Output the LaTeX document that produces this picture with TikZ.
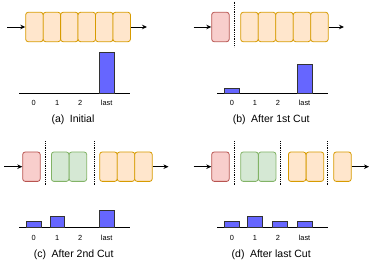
\documentclass[tikz,border=0pt]{standalone}
\usepackage{fontspec}
\setmainfont{Liberation Sans}
\usetikzlibrary{arrows.meta}
\definecolor{ofill}{HTML}{FFE6CC}\definecolor{odraw}{HTML}{D79B00}
\definecolor{rfill}{HTML}{F8CECC}\definecolor{rdraw}{HTML}{B85450}
\definecolor{gfill}{HTML}{D5E8D4}\definecolor{gdraw}{HTML}{82B366}
\definecolor{barfill}{HTML}{6666FF}\definecolor{bardraw}{HTML}{333333}
\begin{document}
\begin{tikzpicture}[x=1pt,y=-1pt,
  cell/.style={rectangle,rounded corners=2.5pt,line width=0.8pt,minimum width=17.5pt,minimum height=29.4pt,inner sep=0pt,anchor=west},
  ocell/.style={cell,fill=ofill,draw=odraw},
  rcell/.style={cell,fill=rfill,draw=rdraw},
  gcell/.style={cell,fill=gfill,draw=gdraw},
  flow/.style={-{Stealth[length=5pt,width=4.5pt]},line width=0.9pt},
  cutline/.style={densely dotted,line width=0.8pt},
  bar/.style={fill=barfill,draw=bardraw,line width=0.8pt},
  axis/.style={line width=0.9pt},
  lbl/.style={font=\fontsize{7.4}{8}\selectfont,inner sep=0pt},
  captxt/.style={font=\fontsize{10.5}{12}\selectfont,inner sep=0pt}]
\useasboundingbox (0,0) rectangle (374,264);
% ---------- (a)
\foreach \i in {0,...,5}{\node[ocell] (a\i) at (25.3+17.45*\i,27) {};}
\coordinate (ain) at (7,27); \coordinate (aout) at (147,27);
\draw[flow] (ain) -- (a0.west);
\draw[flow] (a5.east) -- (aout);
\coordinate (aax1) at (19.3,93.7); \coordinate (aax2) at (130,93.7);
\draw[axis] (aax1) -- (aax2);
\draw[bar] (99.3,93.7) rectangle (114,52.7);
\node[lbl] (al0) at (33.7,103) {0};
\node[lbl] (al1) at (57.2,103) {1};
\node[lbl] (al2) at (80.3,103) {2};
\node[lbl] (al3) at (106.7,103) {last};
\node[captxt] (acap) at (73,119.5) {(a)\hspace{5.5pt}Initial};
% ---------- (b)
\node[rcell] (br) at (211.3,27) {};
\foreach \i in {0,...,4}{\node[ocell] (b\i) at (240.3+17.5*\i,27) {};}
\coordinate (bin) at (193.5,27); \coordinate (bout) at (344,27);
\draw[flow] (bin) -- (br.west);
\draw[flow] (b4.east) -- (bout);
\coordinate (bc1t) at (234,1.7); \coordinate (bc1b) at (234,46.7);
\draw[cutline] (bc1t) -- (bc1b);
\coordinate (bax1) at (217,93.5); \coordinate (bax2) at (327.5,93.5);
\draw[axis] (bax1) -- (bax2);
\draw[bar] (224.3,93.5) rectangle (239,88);
\draw[bar] (297.7,93.5) rectangle (312.3,64.3);
\node[lbl] (bl0) at (232,103) {0};
\node[lbl] (bl1) at (255,103) {1};
\node[lbl] (bl2) at (278,103) {2};
\node[lbl] (bl3) at (304.5,103) {last};
\node[captxt] (bcap) at (271.2,119.5) {(b)\hspace{5.5pt}After 1st Cut};
% ---------- (c)
\node[rcell] (cr) at (22.3,166.7) {};
\foreach \i in {0,1}{\node[gcell] (cg\i) at (51+17.8*\i,166.7) {};}
\foreach \i in {0,...,2}{\node[ocell] (co\i) at (99.3+17.5*\i,166.7) {};}
\coordinate (cin) at (4,166.7); \coordinate (cout) at (168.5,166.7);
\draw[flow] (cin) -- (cr.west);
\draw[flow] (co2.east) -- (cout);
\coordinate (cc1t) at (45.3,141.3); \coordinate (cc1b) at (45.3,186);
\coordinate (cc2t) at (94,141.3); \coordinate (cc2b) at (94,186);
\draw[cutline] (cc1t) -- (cc1b);
\draw[cutline] (cc2t) -- (cc2b);
\coordinate (cax1) at (19.3,227.3); \coordinate (cax2) at (129.5,227.3);
\draw[axis] (cax1) -- (cax2);
\draw[bar] (26.7,227.3) rectangle (41.3,221.7);
\draw[bar] (50,227.3) rectangle (64.7,216);
\draw[bar] (99.3,227.3) rectangle (114,210);
\node[lbl] (cl0) at (33.7,237.7) {0};
\node[lbl] (cl1) at (57.2,237.7) {1};
\node[lbl] (cl2) at (80.3,237.7) {2};
\node[lbl] (cl3) at (106.7,237.7) {last};
\node[captxt] (ccap) at (73.7,254.7) {(c)\hspace{5.5pt}After 2nd Cut};
% ---------- (d)
\node[rcell] (dr) at (211.3,166.7) {};
\foreach \i in {0,1}{\node[gcell] (dg\i) at (240.3+17.7*\i,166.7) {};}
\foreach \i in {0,1}{\node[ocell] (do\i) at (288+17.8*\i,166.7) {};}
\node[ocell] (do2) at (333.3,166.7) {};
\coordinate (din) at (193.5,166.7); \coordinate (dout) at (369,166.7);
\draw[flow] (din) -- (dr.west);
\draw[flow] (do2.east) -- (dout);
\coordinate (dc1t) at (234.3,141.3); \coordinate (dc1b) at (234.3,186);
\coordinate (dc2t) at (280.7,141.3); \coordinate (dc2b) at (280.7,186);
\coordinate (dc3t) at (327.7,141.3); \coordinate (dc3b) at (327.7,186);
\draw[cutline] (dc1t) -- (dc1b);
\draw[cutline] (dc2t) -- (dc2b);
\draw[cutline] (dc3t) -- (dc3b);
\coordinate (dax1) at (217,227.3); \coordinate (dax2) at (327.5,227.3);
\draw[axis] (dax1) -- (dax2);
\draw[bar] (224.3,227.3) rectangle (239,221.3);
\draw[bar] (247.7,227.3) rectangle (262.3,216);
\draw[bar] (272.3,227.3) rectangle (287,221.3);
\draw[bar] (297.3,227.3) rectangle (312,221.3);
\node[lbl] (dl0) at (232,237.7) {0};
\node[lbl] (dl1) at (255,237.7) {1};
\node[lbl] (dl2) at (278,237.7) {2};
\node[lbl] (dl3) at (304.5,237.7) {last};
\node[captxt] (dcap) at (271.2,254.7) {(d)\hspace{5.5pt}After last Cut};
\end{tikzpicture}
\end{document}
